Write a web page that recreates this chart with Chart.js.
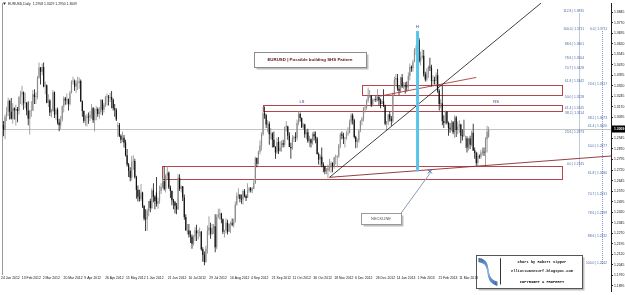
<!DOCTYPE html>
<html><head><meta charset="utf-8">
<script src="https://cdn.jsdelivr.net/npm/chart.js@4.4.1/dist/chart.umd.min.js"></script>
<style>html,body{margin:0;padding:0;background:#fff;overflow:hidden}canvas{display:block}</style>
</head><body>
<canvas id="c" width="625" height="295"></canvas>
<script>
// ===== DATA (EURUSD daily, one bar per trading day from 24 Jan 2012) =====
const opens = [
1.3040,1.3005,1.3100,1.3135,
1.3212,1.3135,1.3085,1.3160,1.3145, 1.3155,1.3140,1.3240,1.3260,1.3275, 1.3195,1.3200,1.3145,1.3085,1.3140,
1.3145,1.3260,1.3240,1.3240,1.3380, 1.3450,1.3420,1.3455,1.3315,1.3325, 1.3200,1.3215,1.3130,1.3140,1.3275,
1.3115,1.3150,1.3060,1.3040,1.3080, 1.3175,1.3230,1.3215,1.3225,1.3190, 1.3270,1.3350,1.3355,1.3315,1.3340,
1.3340,1.3355,1.3210,1.3140,1.3070, 1.3095,1.3100,1.3095,1.3110,1.3160, 1.3075,1.3145,1.3155,1.3120,1.3135,
1.3220,1.3150,1.3185,1.3240,1.3240, 1.3235,1.3240,1.3220,1.3160,1.3150, 1.3030,1.3040,1.2965,1.2935,1.2950,
1.2915,1.2825,1.2760,1.2715,1.2665, 1.2780,1.2785,1.2670,1.2580,1.2530, 1.2515,1.2560,1.2465,1.2375,1.2370,
1.2430,1.2500,1.2450,1.2575,1.2530, 1.2560,1.2480,1.2500,1.2570,1.2600, 1.2640,1.2585,1.2680,1.2700,1.2595,
1.2570,1.2505,1.2490,1.2465,1.2440, 1.2665,1.2585,1.2605,1.2525,1.2385, 1.2280,1.2290,1.2260,1.2245,1.2195,
1.2245,1.2290,1.2270,1.2275,1.2280, 1.2155,1.2115,1.2065,1.2160,1.2290, 1.2310,1.2265,1.2305,1.2320,1.2170,
1.2385,1.2405,1.2410,1.2370,1.2280, 1.2290,1.2345,1.2280,1.2335,1.2340, 1.2330,1.2355,1.2475,1.2535,1.2545,
1.2515,1.2510,1.2570,1.2535,1.2520, 1.2575,1.2590,1.2575,1.2585,1.2630, 1.2805,1.2765,1.2850,1.2895,1.2975,
1.3125,1.3110,1.3045,1.3050,1.2975, 1.2980,1.2935,1.2885,1.2845,1.2920, 1.2855,1.2880,1.2910,1.2900,1.3025,
1.3030,1.2965,1.2885,1.2875,1.2945, 1.2955,1.2950,1.3055,1.3120,1.3090, 1.3025,1.3045,1.2975,1.2990,1.2925,
1.2940,1.2910,1.2975,1.2960,1.2945, 1.2835,1.2795,1.2815,1.2760,1.2745, 1.2710,1.2715,1.2735,1.2740,1.2770,
1.2745,1.2810,1.2815,1.2820,1.2895, 1.2975,1.2965,1.2945,1.2950,1.2980, 1.2985,1.3060,1.3110,1.3075,1.2955,
1.2920,1.2930,1.3000,1.3070,1.3085, 1.3160,1.3165,1.3215,1.3245,1.3250, 1.3185,1.3220,1.3225,1.3220,1.3240,
1.3215,1.3190,1.3210,1.3180,1.3050, 1.3065,1.3115,1.3085,1.3070,1.3265, 1.3365,1.3375,1.3300,1.3285,1.3380,
1.3315,1.3320,1.3315,1.3310,1.3390, 1.3455,1.3445,1.3490,1.3575,1.3580, 1.3645,1.3495,1.3525,1.3535,1.3400,
1.3365,1.3410,1.3455,1.3450,1.3355, 1.3360,1.3355,1.3395,1.3285,1.3190, 1.3195,1.3070,1.3055,1.3135,1.3055,
1.3020,1.3015,1.3060,1.2990,1.3095, 1.3005,1.3030,1.3045,1.2965,1.2960, 1.2935,1.2945,1.2880,1.2945,1.2900,
1.2985,1.2860,1.2840,1.2770,1.2820, 1.2815,1.2845,1.2850,1.2845,1.2940, 1.2958];
const highs = [
1.3070,1.3115,1.3170,1.3235,
1.3220,1.3233,1.3195,1.3168,1.3185, 1.3170,1.3245,1.3285,1.3320,1.3280, 1.3270,1.3205,1.3210,1.3150,1.3210,
1.3290,1.3295,1.3275,1.3390,1.3486, 1.3455,1.3480,1.3487,1.3350,1.3330, 1.3260,1.3225,1.3155,1.3290,1.3280,
1.3160,1.3165,1.3085,1.3105,1.3180, 1.3245,1.3240,1.3265,1.3230,1.3285, 1.3360,1.3385,1.3365,1.3360,1.3385,
1.3380,1.3365,1.3215,1.3145,1.3110, 1.3120,1.3130,1.3140,1.3190,1.3170, 1.3160,1.3175,1.3165,1.3170,1.3225,
1.3220,1.3200,1.3250,1.3265,1.3255, 1.3270,1.3283,1.3230,1.3190,1.3160, 1.3060,1.3055,1.2975,1.2995,1.2970,
1.2935,1.2870,1.2770,1.2740,1.2820, 1.2825,1.2800,1.2680,1.2610,1.2580, 1.2620,1.2565,1.2470,1.2440,1.2445,
1.2500,1.2515,1.2590,1.2625,1.2540, 1.2670,1.2525,1.2610,1.2625,1.2665, 1.2745,1.2690,1.2745,1.2710,1.2610,
1.2575,1.2515,1.2500,1.2485,1.2690, 1.2690,1.2610,1.2605,1.2545,1.2405, 1.2335,1.2335,1.2290,1.2260,1.2255,
1.2315,1.2330,1.2295,1.2310,1.2285, 1.2170,1.2140,1.2180,1.2325,1.2390, 1.2345,1.2335,1.2335,1.2405,1.2405,
1.2445,1.2445,1.2415,1.2375,1.2295, 1.2375,1.2365,1.2340,1.2355,1.2375, 1.2375,1.2495,1.2560,1.2590,1.2545,
1.2545,1.2580,1.2585,1.2545,1.2625, 1.2600,1.2600,1.2600,1.2655,1.2815, 1.2810,1.2860,1.2930,1.2990,1.3170,
1.3172,1.3120,1.3075,1.3065,1.3020, 1.2990,1.2995,1.2890,1.2950,1.2955, 1.2925,1.2930,1.2935,1.3030,1.3070,
1.3035,1.2990,1.2915,1.2970,1.2965, 1.2990,1.3080,1.3140,1.3130,1.3095, 1.3055,1.3050,1.3010,1.3015,1.2965,
1.2945,1.2990,1.2995,1.2995,1.2955, 1.2845,1.2830,1.2880,1.2775,1.2750, 1.2735,1.2760,1.2800,1.2785,1.2775,
1.2815,1.2830,1.2825,1.2905,1.2985, 1.2995,1.2985,1.2955,1.3000,1.3025, 1.3080,1.3125,1.3125,1.3085,1.2965,
1.2945,1.3010,1.3075,1.3100,1.3170, 1.3185,1.3225,1.3308,1.3290,1.3255, 1.3230,1.3230,1.3250,1.3295,1.3255,
1.3230,1.3225,1.3295,1.3185,1.3070, 1.3120,1.3135,1.3105,1.3270,1.3385, 1.3405,1.3405,1.3320,1.3385,1.3405,
1.3345,1.3345,1.3350,1.3415,1.3480, 1.3465,1.3505,1.3590,1.3610,1.3711, 1.3660,1.3565,1.3580,1.3575,1.3420,
1.3445,1.3465,1.3520,1.3470,1.3395, 1.3385,1.3415,1.3440,1.3295,1.3225, 1.3320,1.3110,1.3145,1.3140,1.3065,
1.3055,1.3075,1.3070,1.3110,1.3105, 1.3065,1.3075,1.3050,1.3010,1.3080, 1.2965,1.2960,1.2950,1.2965,1.3000,
1.3050,1.2880,1.2850,1.2845,1.2830, 1.2865,1.2880,1.2880,1.2955,1.3035, 1.3029];
const lows = [
1.2960,1.2940,1.3070,1.3105,
1.3080,1.3080,1.3050,1.3080,1.3038, 1.3060,1.3115,1.3190,1.3180,1.3150, 1.3160,1.3110,1.3040,1.2973,1.3100,
1.3140,1.3190,1.3190,1.3225,1.3370, 1.3330,1.3395,1.3310,1.3260,1.3195, 1.3170,1.3105,1.3095,1.3135,1.3090,
1.3075,1.3045,1.2996,1.3010,1.3065, 1.3130,1.3185,1.3185,1.3145,1.3180, 1.3265,1.3330,1.3285,1.3270,1.3290,
1.3300,1.3205,1.3100,1.3055,1.3035, 1.3030,1.3050,1.3070,1.3085,1.3055, 1.2995,1.3075,1.3100,1.3085,1.3115,
1.3110,1.3130,1.3170,1.3180,1.3180, 1.3205,1.3160,1.3145,1.3100,1.3070, 1.2955,1.2955,1.2910,1.2920,1.2880,
1.2817,1.2745,1.2670,1.2640,1.2645, 1.2720,1.2660,1.2515,1.2495,1.2495, 1.2500,1.2450,1.2360,1.2285,1.2288,
1.2390,1.2420,1.2440,1.2490,1.2440, 1.2460,1.2445,1.2480,1.2550,1.2590, 1.2575,1.2560,1.2650,1.2585,1.2520,
1.2470,1.2440,1.2410,1.2405,1.2435, 1.2570,1.2560,1.2500,1.2365,1.2290, 1.2260,1.2240,1.2200,1.2160,1.2180,
1.2215,1.2215,1.2225,1.2245,1.2145, 1.2067,1.2042,1.2060,1.2125,1.2255, 1.2230,1.2255,1.2265,1.2135,1.2155,
1.2375,1.2365,1.2340,1.2265,1.2240, 1.2270,1.2260,1.2280,1.2270,1.2320, 1.2310,1.2345,1.2465,1.2515,1.2490,
1.2480,1.2475,1.2525,1.2500,1.2520, 1.2560,1.2560,1.2555,1.2585,1.2620, 1.2740,1.2760,1.2830,1.2860,1.2965,
1.3085,1.3020,1.2990,1.2900,1.2940, 1.2880,1.2880,1.2800,1.2835,1.2835, 1.2850,1.2850,1.2880,1.2885,1.2995,
1.2935,1.2885,1.2800,1.2865,1.2920, 1.2920,1.2930,1.3040,1.3065,1.3020, 1.3005,1.2950,1.2940,1.2915,1.2885,
1.2880,1.2900,1.2930,1.2910,1.2830, 1.2760,1.2745,1.2740,1.2705,1.2690, 1.2690,1.2662,1.2710,1.2700,1.2705,
1.2730,1.2760,1.2740,1.2805,1.2875, 1.2940,1.2905,1.2880,1.2935,1.2965, 1.2980,1.3045,1.3045,1.2945,1.2875,
1.2880,1.2915,1.2990,1.3040,1.3065, 1.3130,1.3150,1.3200,1.3235,1.3170, 1.3175,1.3210,1.3205,1.3210,1.3180,
1.3160,1.3190,1.3170,1.3040,1.2998, 1.3040,1.3065,1.3035,1.3055,1.3255, 1.3320,1.3285,1.3255,1.3270,1.3305,
1.3300,1.3265,1.3280,1.3290,1.3360, 1.3420,1.3420,1.3490,1.3540,1.3565, 1.3485,1.3465,1.3510,1.3385,1.3350,
1.3350,1.3375,1.3425,1.3315,1.3320, 1.3330,1.3310,1.3270,1.3145,1.3160, 1.3040,1.3020,1.3045,1.3045,1.2965,
1.2985,1.3000,1.2975,1.2950,1.2955, 1.2975,1.2985,1.2910,1.2930,1.2955, 1.2875,1.2845,1.2860,1.2870,1.2890,
1.2855,1.2800,1.2750,1.2750,1.2800, 1.2800,1.2825,1.2820,1.2745,1.2845, 1.2950];
const closes = [
1.3005,1.3100,1.3135,1.3212,
1.3135,1.3085,1.3160,1.3145,1.3155, 1.3140,1.3240,1.3260,1.3275,1.3195, 1.3200,1.3145,1.3085,1.3140,1.3145,
1.3260,1.3240,1.3240,1.3380,1.3450, 1.3420,1.3455,1.3315,1.3325,1.3200, 1.3215,1.3130,1.3140,1.3275,1.3115,
1.3150,1.3060,1.3040,1.3080,1.3175, 1.3230,1.3215,1.3225,1.3190,1.3270, 1.3350,1.3355,1.3315,1.3340,1.3345,
1.3355,1.3210,1.3140,1.3070,1.3095, 1.3100,1.3095,1.3110,1.3160,1.3075, 1.3145,1.3155,1.3120,1.3135,1.3220,
1.3150,1.3185,1.3240,1.3245,1.3235, 1.3240,1.3220,1.3160,1.3150,1.3080, 1.3040,1.2965,1.2935,1.2950,1.2915,
1.2825,1.2760,1.2715,1.2665,1.2780, 1.2785,1.2670,1.2580,1.2530,1.2515, 1.2560,1.2465,1.2375,1.2370,1.2430,
1.2500,1.2450,1.2575,1.2530,1.2500, 1.2480,1.2500,1.2570,1.2600,1.2640, 1.2585,1.2680,1.2700,1.2595,1.2570,
1.2505,1.2490,1.2465,1.2440,1.2665, 1.2585,1.2605,1.2525,1.2385,1.2290, 1.2290,1.2260,1.2245,1.2195,1.2245,
1.2290,1.2270,1.2275,1.2280,1.2155, 1.2115,1.2065,1.2160,1.2290,1.2310, 1.2265,1.2305,1.2320,1.2170,1.2385,
1.2405,1.2410,1.2370,1.2280,1.2290, 1.2345,1.2280,1.2335,1.2340,1.2330, 1.2355,1.2475,1.2535,1.2545,1.2515,
1.2510,1.2570,1.2535,1.2520,1.2575, 1.2590,1.2575,1.2585,1.2630,1.2805, 1.2765,1.2850,1.2895,1.2975,1.3125,
1.3110,1.3045,1.3050,1.2975,1.2980, 1.2935,1.2885,1.2845,1.2920,1.2855, 1.2880,1.2910,1.2900,1.3025,1.3035,
1.2965,1.2885,1.2875,1.2945,1.2955, 1.2950,1.3055,1.3120,1.3090,1.3025, 1.3045,1.2975,1.2990,1.2925,1.2940,
1.2910,1.2975,1.2960,1.2945,1.2835, 1.2795,1.2815,1.2760,1.2745,1.2710, 1.2715,1.2735,1.2740,1.2770,1.2745,
1.2810,1.2815,1.2820,1.2895,1.2975, 1.2965,1.2945,1.2950,1.2980,1.2985, 1.3060,1.3110,1.3075,1.2955,1.2920,
1.2930,1.3000,1.3070,1.3085,1.3160, 1.3165,1.3215,1.3245,1.3250,1.3185, 1.3220,1.3225,1.3220,1.3240,1.3215,
1.3190,1.3210,1.3180,1.3050,1.3065, 1.3115,1.3085,1.3070,1.3265,1.3365, 1.3375,1.3300,1.3285,1.3380,1.3315,
1.3320,1.3315,1.3310,1.3390,1.3455, 1.3445,1.3490,1.3575,1.3580,1.3645, 1.3495,1.3525,1.3535,1.3400,1.3365,
1.3410,1.3455,1.3450,1.3355,1.3360, 1.3355,1.3395,1.3285,1.3190,1.3195, 1.3070,1.3055,1.3135,1.3055,1.3020,
1.3015,1.3060,1.2990,1.3095,1.3005, 1.3030,1.3045,1.2965,1.2960,1.3075, 1.2945,1.2880,1.2945,1.2900,1.2985,
1.2860,1.2840,1.2770,1.2820,1.2815, 1.2845,1.2850,1.2845,1.2940,1.2993, 1.3009];

const lastPrice = 1.3009;
const titleQuote = ['1.2958', '1.3029', '1.2950', '1.3009'];
const priceTicks = [1.3845,1.3770,1.3695,1.3620,1.3545,1.3470,1.3395,1.3320,1.3245,1.3170,1.3095,1.3020,
  1.2945,1.2870,1.2795,1.2720,1.2645,1.2570,1.2495,1.2420,1.2345,1.2270,1.2195,1.2120,1.2045,1.1970,1.1895];
const dateLabels = ['24 Jan 2012','13 Feb 2012','2 Mar 2012','20 Mar 2012','9 Apr 2012','26 Apr 2012','15 May 2012',
  '1 Jun 2012','21 Jun 2012','10 Jul 2012','29 Jul 2012','16 Aug 2012','4 Sep 2012','21 Sep 2012','11 Oct 2012',
  '30 Oct 2012','18 Nov 2012','6 Dec 2012','26 Dec 2012','14 Jan 2013','1 Feb 2013','21 Feb 2013','11 Mar 2013'];

// Fibonacci retracements (level text, price)
const fibALevels = ['112.8','100.0','88.6','78.6','70.7','61.8','50.0','41.4','38.2','23.6','0.0'];
const fibAPrices = [1.3835,1.3711,1.3601,1.3504,1.3428,1.3342,1.3228,1.3145,1.3114,1.2973,1.2745];
const fibBLevels = ['0.0','23.6','38.2','41.4','50.0','61.8','70.7','78.6','88.6','100.0'];
const fibBPrices = [1.3711,1.3317,1.3073,1.3020,1.2877,1.2680,1.2531,1.2399,1.2232,1.2042];

// Drawn objects in (bar index, price) coordinates
const zones = [ // [fromBar, toBar, topPrice, bottomPrice]
  [102.6, 361.5, 1.2748, 1.2654],
  [168.0, 361.5, 1.3181, 1.3139],
  [232.0, 361.5, 1.3324, 1.3257]
];
const headLine = [{x:268, y:[1.2710, 1.3711]}];
const supportLine = [{x:211, y:1.2668}, {x:348, y:1.3910}];
const neckLine = [{x:211, y:1.2668}, {x:393.2, y:1.2820}];
const redLine = [{x:243.7, y:1.3247}, {x:306, y:1.3380}];
const shsLabels = [['LS',193.2,1.3205],['H',268,1.3742],['RS',318.8,1.3205]];
const neckMark = {x:276, y:1.2710};

// ===== CHART =====
const Y_MAX = 1.39099, Y_MIN = 1.18513, X_MIN = -0.97, X_MAX = 393.2;
const TICK_START = -1.6, TICK_STEP = 13.48;
const bull = '#8c8c8c', bear = '#111111';
const wicks = [], bodies = [], cols = [];
for (let i = 0; i < closes.length; i++) {
  wicks.push({x:i, y:[lows[i], highs[i]]});
  bodies.push({x:i, y:[opens[i], closes[i]]});
  cols.push(closes[i] >= opens[i] ? bull : bear);
}

function drawBox(ctx, x1, y1, x2, y2, stroke, shadow) {
  x1 = Math.round(x1) + .5; y1 = Math.round(y1) + .5; x2 = Math.round(x2) + .5; y2 = Math.round(y2) + .5;
  if (shadow) { ctx.fillStyle = 'rgba(0,0,0,0.25)'; ctx.fillRect(x1 + 2, y1 + 2, x2 - x1, y2 - y1); }
  ctx.fillStyle = '#fff'; ctx.fillRect(x1, y1, x2 - x1, y2 - y1);
  ctx.strokeStyle = stroke; ctx.lineWidth = 1; ctx.strokeRect(x1, y1, x2 - x1, y2 - y1);
}
function text(ctx, s, x, y, font, color, align, base) {
  ctx.font = font; ctx.fillStyle = color; ctx.textAlign = align || 'left'; ctx.textBaseline = base || 'middle';
  ctx.fillText(s, x, y);
}

const annot = {
  id: 'annot',
  beforeDatasetsDraw(chart) {
    const ctx = chart.ctx, xs = chart.scales.x, ys = chart.scales.y, a = chart.chartArea;
    ctx.save();
    ctx.strokeStyle = '#9a9a9a'; ctx.lineWidth = 1;
    ctx.beginPath(); ctx.moveTo(a.left + .5, a.top); ctx.lineTo(a.left + .5, 275); ctx.stroke();
    const py = Math.round(ys.getPixelForValue(lastPrice)) + .5;
    ctx.strokeStyle = '#c4c4c4';
    ctx.beginPath(); ctx.moveTo(a.left, py); ctx.lineTo(a.right, py); ctx.stroke();
    ctx.strokeStyle = '#b3474a';
    zones.forEach(z => {
      const x1 = Math.round(xs.getPixelForValue(z[0])) + .5, x2 = Math.round(xs.getPixelForValue(z[1])) + .5;
      const y1 = Math.round(ys.getPixelForValue(z[2])) + .5, y2 = Math.round(ys.getPixelForValue(z[3])) + .5;
      ctx.strokeRect(x1, y1, x2 - x1, y2 - y1);
    });
    ctx.setLineDash([1, 1]); ctx.strokeStyle = '#7d98c4';
    [[372.5, fibAPrices[0], fibAPrices[fibAPrices.length - 1]], [387.4, fibBPrices[0], fibBPrices[fibBPrices.length - 1]]].forEach(f => {
      const x = Math.round(xs.getPixelForValue(f[0])) + .5;
      ctx.beginPath(); ctx.moveTo(x, ys.getPixelForValue(f[1])); ctx.lineTo(x, ys.getPixelForValue(f[2])); ctx.stroke();
    });
    ctx.setLineDash([]);
    ctx.restore();
  },
  afterDatasetsDraw(chart) {
    const ctx = chart.ctx, xs = chart.scales.x, ys = chart.scales.y;
    const X = v => xs.getPixelForValue(v), Y = v => ys.getPixelForValue(v);
    ctx.save();
    const fibFont = '3.3px "Liberation Sans"';
    fibALevels.forEach((l, i) => text(ctx, l + ' | ' + fibAPrices[i].toFixed(4), X(372.5) + 5, Y(fibAPrices[i]) - 0.5, fibFont, '#4a6aa6', 'right', 'bottom'));
    fibBLevels.forEach((l, i) => text(ctx, l + ' | ' + fibBPrices[i].toFixed(4), X(387.4) + 5, Y(fibBPrices[i]) - 0.5, fibFont, '#4a6aa6', 'right', 'bottom'));
    shsLabels.forEach(s => text(ctx, s[0], X(s[1]), Y(s[2]), '4px "Liberation Sans"', '#2e2e9a', 'center', 'middle'));
    const mx = X(neckMark.x), my = Y(neckMark.y);
    ctx.strokeStyle = '#3b4fa8'; ctx.lineWidth = 1;
    ctx.beginPath(); ctx.moveTo(mx - 2, my - 2); ctx.lineTo(mx + 2, my + 2); ctx.moveTo(mx + 2, my - 2); ctx.lineTo(mx - 2, my + 2); ctx.stroke();
    ctx.strokeStyle = '#8a9ab0';
    ctx.beginPath(); ctx.moveTo(X(257.3), Y(1.2413)); ctx.lineTo(mx, my + 2); ctx.stroke();
    drawBox(ctx, X(231.4), Y(1.2413), X(257.3), Y(1.2333), '#9a9a9a', true);
    text(ctx, 'NECKLINE', (X(231.4) + X(257.3)) / 2, (Y(1.2413) + Y(1.2333)) / 2 + .5, '4px "Liberation Sans"', '#555', 'center', 'middle');
    drawBox(ctx, X(162.1), Y(1.3561), X(234.6), Y(1.3456), '#8c8c8c', true);
    text(ctx, 'EURUSD | Possible building SHS Pattern', (X(162.1) + X(234.6)) / 2, (Y(1.3561) + Y(1.3456)) / 2 + .5, 'bold 4.4px "Liberation Sans"', '#5a1010', 'center', 'middle');
    const cx1 = X(305.8), cx2 = X(374.4), cy1 = Y(1.2117), cy2 = Y(1.1879);
    drawBox(ctx, cx1, cy1, cx2, cy2, '#555', true);
    ctx.lineCap = 'round';
    const g = ctx.createLinearGradient(cx1 + 3, cy1, cx1 + 22, cy2);
    g.addColorStop(0, '#1f4f9a'); g.addColorStop(0.5, '#8fb7e8'); g.addColorStop(1, '#1f4f9a');
    ctx.strokeStyle = g;
    for (let k = 0; k < 4; k++) {
      ctx.lineWidth = 1.2;
      ctx.beginPath();
      ctx.moveTo(cx1 + 3, cy1 + 4 + k);
      ctx.bezierCurveTo(cx1 + 18, cy1 + 6 + k, cx1 + 6, cy2 - 10 + k, cx1 + 21, cy2 - 6 + k);
      ctx.stroke();
    }
    ctx.strokeStyle = '#333'; ctx.lineWidth = 1;
    ctx.beginPath(); ctx.moveTo(Math.round(cx1 + 24) + .5, cy1 + 4); ctx.lineTo(Math.round(cx1 + 24) + .5, cy2 - 4); ctx.stroke();
    const tx = (cx1 + 26 + cx2) / 2, mono = 'bold 3.7px "Liberation Mono"';
    text(ctx, 'Chart by Robert Sipper', tx, cy1 + 7, mono, '#111', 'center', 'middle');
    text(ctx, 'elliottwavesurf.blogspot.com', tx, (cy1 + cy2) / 2, mono, '#111', 'center', 'middle');
    text(ctx, 'COPYRIGHT & PROPERTY', tx, cy2 - 6, mono, '#111', 'center', 'middle');
    ctx.fillStyle = '#333';
    ctx.beginPath(); ctx.moveTo(3, 2.5); ctx.lineTo(6, 2.5); ctx.lineTo(4.5, 5); ctx.closePath(); ctx.fill();
    text(ctx, 'EURUSD,Daily  ' + titleQuote.join(' '), 8, 4, '3.4px "Liberation Sans"', '#222', 'left', 'middle');
    ctx.restore();
  },
  afterDraw(chart) {
    const ctx = chart.ctx, xs = chart.scales.x, ys = chart.scales.y, a = chart.chartArea;
    ctx.save();
    dateLabels.forEach((d, k) => {
      const x = xs.getPixelForValue(TICK_START + k * TICK_STEP);
      text(ctx, d, x, 278.5, '3.4px "Liberation Sans"', '#111', 'left', 'middle');
    });
    const py = ys.getPixelForValue(lastPrice);
    ctx.fillStyle = '#000'; ctx.fillRect(a.right + 1, Math.round(py) - 3.5, 14, 7);
    text(ctx, lastPrice.toFixed(4), a.right + 3, py, 'bold 3.4px "Liberation Sans"', '#fff', 'left', 'middle');
    ctx.restore();
  }
};

new Chart(document.getElementById('c'), {
  type: 'bar',
  data: {
    datasets: [
      {type: 'bar', data: headLine, backgroundColor: '#5bc2ea', barThickness: 3, grouped: false, order: 0, inflateAmount: 0},
      {type: 'line', data: supportLine, borderColor: '#111', borderWidth: 0.8, pointRadius: 0, order: 1},
      {type: 'line', data: neckLine, borderColor: '#8b2a2a', borderWidth: 0.9, pointRadius: 0, order: 1},
      {type: 'line', data: redLine, borderColor: '#b23a3a', borderWidth: 0.9, pointRadius: 0, order: 1},
      {type: 'bar', data: bodies, backgroundColor: cols, barThickness: 1.2, grouped: false, order: 2, inflateAmount: 0, minBarLength: 0.8},
      {type: 'bar', data: wicks, backgroundColor: cols, barThickness: 0.8, grouped: false, order: 3, inflateAmount: 0}
    ]
  },
  options: {
    responsive: false, animation: false, devicePixelRatio: 1,
    layout: {padding: {left: 2, right: 0, top: 0, bottom: 0}},
    plugins: {legend: {display: false}, tooltip: {enabled: false}},
    scales: {
      x: {
        type: 'linear', min: X_MIN, max: X_MAX, offset: false, position: 'bottom',
        afterBuildTicks: s => { s.ticks = dateLabels.map((_, k) => ({value: TICK_START + k * TICK_STEP})); },
        afterFit: s => { s.height = 0; },
        ticks: {display: false, autoSkip: false},
        grid: {display: false, drawTicks: false}, border: {display: false}
      },
      y: {
        type: 'linear', position: 'right', min: Y_MIN, max: Y_MAX,
        afterBuildTicks: s => { s.ticks = priceTicks.map(v => ({value: v})); },
        afterFit: s => { s.width = 14; },
        ticks: {autoSkip: false, padding: 1, font: {family: 'Liberation Sans', size: 3.4}, color: '#111', callback: v => v.toFixed(4)},
        grid: {drawOnChartArea: false, drawTicks: true, tickLength: 2, color: '#222'},
        border: {display: true, color: '#222'}
      }
    }
  },
  plugins: [annot]
});
</script>
</body></html>
